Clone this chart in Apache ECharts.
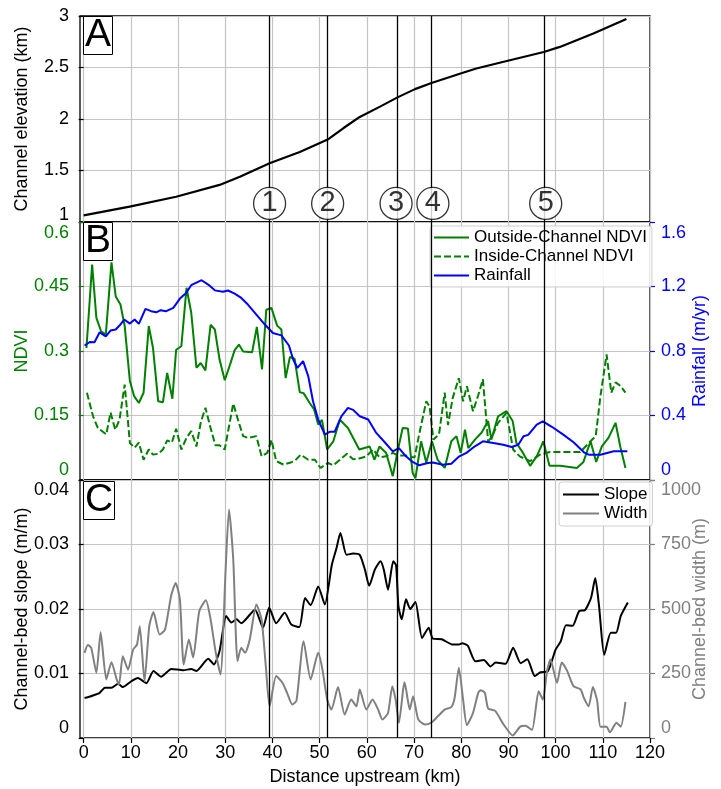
<!DOCTYPE html>
<html>
<head>
<meta charset="utf-8">
<script src="https://cdn.jsdelivr.net/npm/echarts@6/dist/echarts.min.js"></script>
<style>
  html, body { margin: 0; padding: 0; background: #fff; }
  #chart { width: 721px; height: 789px; }
</style>
</head>
<body>
<div id="chart"></div>
<script>
// ---- Channel profile (panel A) ----
const elevKm  = [0, 9.75, 19.6, 28.8, 33.1, 39.4, 45.8, 51.7, 55, 58.5, 62.8, 66.5, 70.2, 73.7, 79.7, 83.2, 90.3, 97.5, 100.9, 108, 115];
const elevVal = [1.065, 1.15, 1.245, 1.36, 1.44, 1.57, 1.68, 1.80, 1.91, 2.02, 2.12, 2.21, 2.29, 2.35, 2.44, 2.49, 2.57, 2.65, 2.70, 2.83, 2.97];

// ---- Vegetation and rainfall (panel B) ----
const outKm = [0.6, 1.8, 2.7, 3.7, 4.7, 5.9, 6.8, 7.8, 8.7, 9.8, 10.7, 11.7, 12.7, 13.8, 14.7, 15.8, 16.8, 17.7, 18.8, 19.6,
  20.7, 21.8, 22.8, 23.9, 24.8, 25.8, 26.9, 27.8, 28.8, 29.9, 30.95, 32.0, 32.9, 33.8, 35.7, 36.7, 37.8, 38.7, 39.8, 41.0,
  41.9, 42.8, 43.7, 44.7, 45.8, 46.6, 47.9, 48.8, 49.7, 50.5, 51.6, 52.9, 54.3, 56.0, 58.4, 60.6, 61.6, 62.7, 64.1, 65.5,
  66.6, 67.6, 68.7, 69.7, 70.3, 71.5, 72.6, 73.8, 75.0, 76.5, 77.9, 79.0, 79.9, 80.8, 81.5, 82.9, 84.3, 85.7, 86.4, 87.8,
  89.6, 90.9, 91.7, 93.1, 94.6, 96.0, 97.4, 98.7, 101.0, 104.5, 105.9, 107.4, 108.6, 109.8, 111.2, 112.7, 113.7, 114.8];
const outNdvi = [0.307, 0.501, 0.377, 0.346, 0.338, 0.506, 0.427, 0.408, 0.358, 0.230, 0.195, 0.179, 0.203, 0.358, 0.307, 0.183, 0.181, 0.249, 0.189, 0.303,
  0.311, 0.447, 0.389, 0.261, 0.272, 0.255, 0.361, 0.350, 0.280, 0.232, 0.266, 0.302, 0.315, 0.299, 0.297, 0.356, 0.257, 0.396, 0.400, 0.359,
  0.350, 0.237, 0.286, 0.282, 0.204, 0.202, 0.179, 0.165, 0.129, 0.140, 0.071, 0.090, 0.140, 0.121, 0.071, 0.078, 0.047, 0.078, 0.063, 0.009,
  0.071, 0.121, 0.120, 0.017, 0.004, 0.090, 0.040, 0.090, 0.047, 0.028, 0.090, 0.102, 0.063, 0.117, 0.074, 0.094, 0.110, 0.137, 0.094, 0.148,
  0.160, 0.137, 0.086, 0.063, 0.033, 0.055, 0.090, 0.033, 0.033, 0.028, 0.042, 0.090, 0.042, 0.078, 0.098, 0.133, 0.078, 0.028];

const inKm = [0.7, 2.0, 3.0, 4.8, 5.7, 6.7, 7.6, 8.7, 9.8, 10.8, 11.7, 12.7, 13.8, 14.7, 15.8, 16.8, 17.7, 18.7, 19.6, 20.7,
  21.8, 22.8, 23.9, 24.8, 25.8, 26.9, 27.9, 28.8, 29.9, 31.7, 32.7, 33.8, 34.8, 36.6, 37.7, 38.9, 39.8, 40.8, 42.3, 43.7,
  44.7, 46.0, 47.6, 49.0, 50.2, 51.8, 52.9, 54.3, 55.8, 57.1, 58.4, 59.9, 61.3, 62.7, 64.1, 65.5, 66.6, 68.3, 70.1, 71.3,
  72.6, 73.3, 74.1, 75.3, 76.5, 77.2, 78.2, 79.5, 80.4, 81.2, 82.5, 83.6, 84.6, 85.7, 86.6, 87.8, 89.6, 91.0, 92.4, 94.6,
  96.7, 98.8, 105.2, 107.4, 108.5, 109.5, 110.8, 111.8, 112.7, 113.7, 114.8];
const inNdvi = [0.203, 0.148, 0.121, 0.106, 0.157, 0.117, 0.140, 0.222, 0.086, 0.075, 0.087, 0.047, 0.071, 0.059, 0.061, 0.071, 0.092, 0.087, 0.119, 0.071,
  0.098, 0.114, 0.078, 0.133, 0.168, 0.121, 0.081, 0.081, 0.071, 0.178, 0.140, 0.102, 0.098, 0.102, 0.055, 0.063, 0.093, 0.044, 0.036, 0.040,
  0.044, 0.059, 0.047, 0.047, 0.028, 0.040, 0.034, 0.047, 0.061, 0.048, 0.050, 0.055, 0.071, 0.053, 0.055, 0.063, 0.057, 0.057, 0.052, 0.117,
  0.183, 0.171, 0.094, 0.106, 0.203, 0.128, 0.191, 0.237, 0.183, 0.218, 0.160, 0.197, 0.234, 0.090, 0.102, 0.133, 0.156, 0.071, 0.055, 0.044,
  0.059, 0.065, 0.065, 0.090, 0.102, 0.195, 0.292, 0.203, 0.227, 0.219, 0.203];

const rainKm = [0.2, 1.3, 2.3, 3.4, 4.7, 5.7, 6.8, 7.6, 8.6, 9.8, 10.8, 11.7, 13.1, 14.3, 15.4, 16.3, 17.5, 19.0, 20.4, 21.6,
  22.8, 25.0, 26.4, 27.8, 29.5, 30.6, 32.0, 33.4, 34.8, 36.6, 38.4, 40.1, 41.9, 43.5, 44.4, 45.3, 46.5, 47.6, 48.6, 49.7,
  51.1, 52.2, 53.2, 54.6, 56.0, 57.1, 58.5, 60.3, 62.0, 63.8, 65.5, 66.8, 68.3, 69.7, 71.1, 72.9, 74.0, 76.1, 77.9, 79.6,
  81.1, 82.9, 84.6, 86.8, 88.9, 90.7, 92.1, 93.2, 94.2, 96.0, 97.3, 99.2, 101.7, 103.8, 106.0, 107.0, 109.5, 112.3, 115.2];
const rainVal = [0.834, 0.856, 0.854, 0.916, 0.891, 0.927, 0.933, 0.958, 0.995, 0.970, 0.995, 0.968, 1.061, 1.047, 1.040, 1.053, 1.047, 1.067, 1.125, 1.156,
  1.208, 1.239, 1.212, 1.176, 1.167, 1.175, 1.156, 1.129, 1.088, 1.026, 0.964, 0.912, 0.897, 0.834, 0.747, 0.695, 0.737, 0.643, 0.488, 0.375,
  0.282, 0.300, 0.300, 0.395, 0.447, 0.435, 0.395, 0.375, 0.292, 0.234, 0.178, 0.198, 0.147, 0.112, 0.091, 0.105, 0.109, 0.095, 0.101, 0.147,
  0.168, 0.209, 0.240, 0.230, 0.219, 0.205, 0.219, 0.271, 0.280, 0.344, 0.364, 0.330, 0.280, 0.234, 0.172, 0.157, 0.157, 0.178, 0.178];

// ---- Channel-bed slope and width (panel C) ----
const slopeKm = [0.2, 2.0, 3.4, 4.5, 5.9, 7.3, 8.3, 10.1, 11.5, 13.3, 14.8, 16.4, 18.6, 21.1, 22.8, 23.9, 26.4, 27.6, 28.8, 30.2,
  31.3, 32.4, 33.4, 36.3, 38.0, 39.3, 40.8, 42.6, 44.0, 45.7, 46.9, 48.1, 49.7, 51.1, 52.6, 53.6, 54.4, 55.7, 57.1, 58.5,
  59.6, 60.5, 61.7, 62.9, 63.6, 64.5, 65.6, 66.2, 66.7, 67.4, 68.3, 69.2, 70.3, 71.7, 73.1, 74.0, 75.9, 78.1, 79.5, 80.2,
  81.4, 83.0, 84.8, 86.2, 87.3, 89.4, 91.0, 92.6, 94.0, 95.6, 96.8, 98.3, 100.0, 101.1, 102.2, 103.6, 105.0, 106.2, 107.5, 108.4,
  109.2, 110.3, 111.7, 112.8, 113.8, 115.3];
const slopeVal = [0.0062, 0.0066, 0.0070, 0.0078, 0.0078, 0.0084, 0.0079, 0.0088, 0.0093, 0.0085, 0.0104, 0.0095, 0.0107, 0.0105, 0.0107, 0.0104, 0.0123, 0.0114, 0.0135, 0.0189,
  0.0179, 0.0184, 0.0178, 0.0199, 0.0171, 0.0202, 0.0178, 0.0194, 0.0176, 0.0172, 0.0217, 0.0206, 0.0235, 0.0207, 0.0269, 0.0295, 0.0318, 0.0284, 0.0286, 0.0284,
  0.0261, 0.0236, 0.0261, 0.0274, 0.0261, 0.0230, 0.0274, 0.0268, 0.0204, 0.0184, 0.0215, 0.0200, 0.0211, 0.0155, 0.0171, 0.0154, 0.0153, 0.0145, 0.0145, 0.0147,
  0.0143, 0.0119, 0.0121, 0.0111, 0.0117, 0.0115, 0.0140, 0.0116, 0.0122, 0.0096, 0.0102, 0.0103, 0.0137, 0.0150, 0.0175, 0.0174, 0.0197, 0.0198, 0.0217, 0.0248,
  0.0205, 0.0129, 0.0163, 0.0163, 0.0189, 0.0210];

const widthKm = [0.2, 0.9, 1.6, 2.7, 3.6, 4.8, 5.9, 7.0, 7.5, 8.3, 9.4, 10.5, 11.3, 11.9, 12.9, 13.9, 14.8, 16.1, 17.2, 17.9,
  18.6, 19.5, 20.4, 21.2, 22.3, 23.2, 24.5, 25.9, 26.9, 28.0, 29.0, 30.1, 30.8, 31.7, 32.6, 33.4, 34.2, 35.2, 36.6, 37.7,
  38.6, 39.4, 40.8, 42.1, 43.1, 44.2, 45.1, 46.6, 48.1, 49.7, 50.6, 51.6, 52.5, 53.9, 55.3, 56.7, 57.8, 58.5, 59.9, 61.2,
  62.4, 63.3, 64.5, 65.4, 66.1, 66.8, 67.7, 68.0, 69.1, 69.8, 70.9, 72.3, 73.7, 75.1, 76.5, 77.9, 78.6, 79.5, 80.4, 81.2,
  82.5, 83.6, 84.1, 85.0, 85.7, 87.2, 89.0, 90.9, 92.5, 93.6, 95.0, 96.4, 97.3, 98.2, 98.9, 100.3, 101.3, 102.4, 103.8, 105.3,
  106.0, 107.0, 107.9, 108.8, 109.5, 110.8, 111.5, 112.9, 113.8, 114.8];
const widthVal = [330, 360, 350, 253, 410, 227, 294, 227, 207, 317, 265, 343, 362, 433, 220, 433, 488, 401, 418, 484,
  556, 601, 536, 285, 382, 312, 491, 534, 460, 330, 246, 660, 886, 692, 298, 350, 330, 382, 517, 460,
  278, 123, 240, 215, 175, 130, 145, 375, 227, 330, 265, 149, 110, 198, 91, 149, 123, 188, 110, 149,
  110, 72, 97, 201, 149, 59, 188, 216, 110, 162, 72, 52, 60, 85, 110, 120, 155, 272, 149, 50,
  97, 175, 185, 175, 114, 105, 52, 10, 44, 47, 31, 181, 149, 262, 304, 214, 293, 262, 201, 188,
  155, 123, 198, 145, 44, 44, 22, 59, 44, 140];

// ---- Section boundaries (vertical lines) and their numbered markers ----
const sectionKm   = [39.4, 51.7, 66.5, 73.7, 97.5];
const markerKm    = [39.4, 51.7, 66.2, 74.0, 97.9];
const markerLabel = ['1', '2', '3', '4', '5'];

const xTicks = [0, 10, 20, 30, 40, 50, 60, 70, 80, 90, 100, 110, 120];

const FONT = '"Liberation Sans", Arial, Helvetica, sans-serif';
const GREEN = '#008000', BLUE = '#0000ff', GREY = '#808080', GRID = '#c4c4c4';
const MARKER_LEVEL = 1.18;

const pairs = (xs, ys) => xs.map((x, i) => [x, ys[i]]);

// tick labels at the ends of a panel are nudged inward so they do not collide
function edgeLabels(color, min, max, digits, shiftTop, shiftBottom) {
  const base = { color, fontSize: 18, fontFamily: FONT };
  return {
    color, fontSize: 18, fontFamily: FONT, margin: 11,
    formatter: v => {
      const s = String(+v.toFixed(digits));
      if (Math.abs(v - max) < 1e-9 && shiftTop) return '{t|' + s + '}';
      if (Math.abs(v - min) < 1e-9 && shiftBottom) return '{b|' + s + '}';
      return '{n|' + s + '}';
    },
    rich: {
      n: base,
      t: Object.assign({ padding: [shiftTop * 2, 0, 0, 0] }, base),
      b: Object.assign({ padding: [0, 0, shiftBottom * 2, 0] }, base)
    }
  };
}

function xAxisFor(gridIndex, showLabels) {
  return {
    type: 'value', gridIndex, min: -0.77, max: 120,
    axisLine: { show: false },
    axisTick: { show: showLabels, customValues: xTicks, length: 5, lineStyle: { color: '#000', width: 1.2 } },
    axisLabel: { show: showLabels, customValues: xTicks, color: '#000', fontSize: 18, fontFamily: FONT, margin: 6 },
    splitLine: { show: true, lineStyle: { color: GRID, width: 1.2 } },
    name: showLabels ? 'Distance upstream (km)' : '',
    nameLocation: 'middle', nameGap: 30, nameMoveOverlap: false,
    nameTextStyle: { color: '#000', fontSize: 18, fontFamily: FONT }
  };
}

function yAxisFor(gridIndex, opts) {
  return {
    type: 'value', gridIndex, position: opts.position || 'left',
    min: opts.min, max: opts.max, interval: opts.interval,
    axisLine: { show: false },
    axisTick: { show: true, length: 5, lineStyle: { color: opts.color, width: 1.2 } },
    axisLabel: edgeLabels(opts.color, opts.min, opts.max, opts.digits, opts.shiftTop, opts.shiftBottom),
    splitLine: { show: !!opts.split, lineStyle: { color: GRID, width: 1.2 } },
    name: opts.name, nameLocation: 'middle', nameRotate: 90, nameGap: opts.nameGap,
    nameMoveOverlap: false,
    nameTextStyle: { color: opts.color, fontSize: 18, fontFamily: FONT }
  };
}

const sectionLines = {
  silent: true, symbol: 'none', label: { show: false },
  lineStyle: { color: '#000', width: 1.3, type: 'solid' },
  emphasis: { disabled: true },
  data: sectionKm.map(v => ({ xAxis: v }))
};

const panelTitle = (text, top) => ({
  text, left: 83, top, padding: [0, 2, 0, 2],
  borderWidth: 1, borderColor: '#000', backgroundColor: '#fff',
  textStyle: { fontSize: 39, fontWeight: 'normal', color: '#000', fontFamily: FONT, lineHeight: 33 }
});

const gridBase = {
  left: 80, right: 71, show: true, borderColor: '#000', borderWidth: 1.3,
  containLabel: false, outerBoundsMode: 'none'
};

const legendBase = {
  orient: 'vertical', itemHeight: 14, itemGap: 0,
  backgroundColor: 'rgba(255,255,255,0.85)',
  borderColor: '#d0d0d0', borderWidth: 1, borderRadius: 3,
  itemStyle: { opacity: 0 },
  textStyle: { color: '#000', fontSize: 17, fontFamily: FONT, lineHeight: 19 },
  selectedMode: false
};

const option = {
  animation: false,
  backgroundColor: '#fff',
  title: [panelTitle('A', 19), panelTitle('B', 225), panelTitle('C', 484)],
  grid: [
    Object.assign({ top: 16, height: 206 }, gridBase),
    Object.assign({ top: 222, height: 258 }, gridBase),
    Object.assign({ top: 480, height: 258 }, gridBase)
  ],
  xAxis: [xAxisFor(0, false), xAxisFor(1, false), xAxisFor(2, true)],
  yAxis: [
    yAxisFor(0, { min: 1, max: 3, interval: 0.5, digits: 1, color: '#000', split: true, name: 'Channel elevation (km)', nameGap: 49, shiftTop: 0, shiftBottom: 7 }),
    yAxisFor(1, { min: 0, max: 0.6, interval: 0.15, digits: 2, color: GREEN, split: true, name: 'NDVI', nameGap: 49, shiftTop: 11, shiftBottom: 10 }),
    yAxisFor(1, { min: 0, max: 1.6, interval: 0.4, digits: 1, color: BLUE, position: 'right', name: 'Rainfall (m/yr)', nameGap: 41, shiftTop: 11, shiftBottom: 10 }),
    yAxisFor(2, { min: 0, max: 0.04, interval: 0.01, digits: 3, color: '#000', split: true, name: 'Channel-bed slope (m/m)', nameGap: 49, shiftTop: 10, shiftBottom: 10 }),
    yAxisFor(2, { min: 0, max: 1000, interval: 250, digits: 0, color: GREY, position: 'right', name: 'Channel-bed width (m)', nameGap: 41, shiftTop: 10, shiftBottom: 10 })
  ],
  legend: [
    Object.assign({}, legendBase, {
      data: ['Outside-Channel NDVI', 'Inside-Channel NDVI', 'Rainfall'],
      left: 430, top: 226, itemWidth: 35, padding: [2, 5, 2, 3]
    }),
    Object.assign({}, legendBase, {
      data: ['Slope', 'Width'],
      left: 559, top: 482, itemWidth: 36, padding: [3, 5, 3, 3]
    })
  ],
  series: [
    {
      name: 'Elevation', type: 'line', xAxisIndex: 0, yAxisIndex: 0, symbol: 'none',
      data: pairs(elevKm, elevVal), lineStyle: { color: '#000', width: 2.2 },
      markLine: sectionLines, z: 2
    },
    {
      name: 'Section', type: 'scatter', xAxisIndex: 0, yAxisIndex: 0, z: 10,
      symbol: 'circle', symbolSize: 32, silent: true,
      itemStyle: { color: '#fff', borderColor: '#000', borderWidth: 1.3 },
      label: { show: true, position: 'inside', formatter: p => markerLabel[p.dataIndex], color: '#000', fontSize: 29, fontFamily: FONT },
      data: markerKm.map(x => [x, MARKER_LEVEL])
    },
    {
      name: 'Outside-Channel NDVI', type: 'line', xAxisIndex: 1, yAxisIndex: 1, symbol: 'none',
      data: pairs(outKm, outNdvi), lineStyle: { color: GREEN, width: 2 }, itemStyle: { color: GREEN },
      markLine: sectionLines, z: 3
    },
    {
      name: 'Inside-Channel NDVI', type: 'line', xAxisIndex: 1, yAxisIndex: 1, symbol: 'none',
      data: pairs(inKm, inNdvi), lineStyle: { color: GREEN, width: 2, type: [7, 3] }, itemStyle: { color: GREEN }, z: 3
    },
    {
      name: 'Rainfall', type: 'line', xAxisIndex: 1, yAxisIndex: 2, symbol: 'none',
      data: pairs(rainKm, rainVal), lineStyle: { color: BLUE, width: 2 }, itemStyle: { color: BLUE }, z: 3
    },
    {
      name: 'Slope', type: 'line', xAxisIndex: 2, yAxisIndex: 3, symbol: 'none', smooth: 0.2,
      data: pairs(slopeKm, slopeVal), lineStyle: { color: '#000', width: 2 }, itemStyle: { color: '#000' },
      markLine: sectionLines, z: 3
    },
    {
      name: 'Width', type: 'line', xAxisIndex: 2, yAxisIndex: 4, symbol: 'none', smooth: 0.2,
      data: pairs(widthKm, widthVal), lineStyle: { color: GREY, width: 2 }, itemStyle: { color: GREY }, z: 3
    }
  ]
};

const chart = echarts.init(document.getElementById('chart'), null, { renderer: 'canvas' });
chart.setOption(option);
</script>
</body>
</html>
